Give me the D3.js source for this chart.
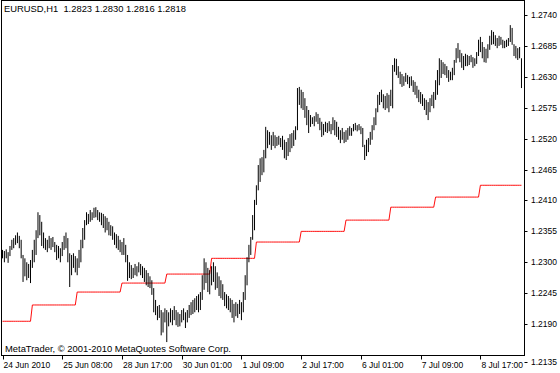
<!DOCTYPE html>
<html>
<head>
<meta charset="utf-8">
<script src="https://cdn.jsdelivr.net/npm/d3@7"></script>
<style>
  body { margin: 0; background: #fff; }
  svg { display: block; }
  text { font-family: "Liberation Sans", Arial, sans-serif; fill: #000; }
</style>
</head>
<body>
<svg id="chart"></svg>
<script>
const symbol = 'EURUSD,H1';
const lastQuote = ['1.2823', '1.2830', '1.2816', '1.2818'];
const copyright = 'MetaTrader, \u00a9 2001-2010 MetaQuotes Software Corp.';

// hourly bars from 24 Jun 2010 00:00
const highs = [
  1.2322,1.2320,1.2323,1.2318,1.2329,1.2340,1.2343,1.2348,1.2353,1.2347,
  1.2340,1.2313,1.2307,1.2300,1.2297,1.2304,1.2322,1.2340,1.2357,1.2389,
  1.2384,1.2372,1.2353,1.2343,1.2340,1.2347,1.2343,1.2345,1.2336,1.2331,
  1.2329,1.2325,1.2336,1.2347,1.2353,1.2343,1.2316,1.2313,1.2316,1.2311,
  1.2307,1.2322,1.2340,1.2361,1.2375,1.2389,1.2386,1.2393,1.2389,1.2397,
  1.2398,1.2393,1.2389,1.2388,1.2386,1.2382,1.2379,1.2372,1.2366,1.2364,
  1.2353,1.2350,1.2347,1.2340,1.2336,1.2343,1.2331,1.2313,1.2300,1.2295,
  1.2290,1.2297,1.2293,1.2300,1.2297,1.2293,1.2290,1.2286,1.2281,1.2275,
  1.2268,1.2254,1.2233,1.2222,1.2224,1.2215,1.2211,1.2218,1.2215,1.2211,
  1.2218,1.2215,1.2222,1.2215,1.2211,1.2208,1.2215,1.2218,1.2211,1.2215,
  1.2224,1.2229,1.2233,1.2236,1.2240,1.2243,1.2247,1.2277,1.2307,1.2300,
  1.2290,1.2286,1.2293,1.2300,1.2293,1.2282,1.2275,1.2268,1.2261,1.2247,
  1.2243,1.2240,1.2236,1.2233,1.2226,1.2229,1.2226,1.2233,1.2229,1.2247,
  1.2277,1.2309,1.2331,1.2345,1.2384,1.2411,1.2437,1.2473,1.2485,1.2487,
  1.2500,1.2541,1.2535,1.2532,1.2526,1.2532,1.2526,1.2523,1.2525,1.2521,
  1.2525,1.2518,1.2514,1.2521,1.2528,1.2530,1.2535,1.2542,1.2610,1.2612,
  1.2607,1.2603,1.2592,1.2578,1.2571,1.2562,1.2558,1.2560,1.2567,1.2564,
  1.2557,1.2550,1.2546,1.2550,1.2548,1.2551,1.2546,1.2558,1.2553,1.2550,
  1.2541,1.2535,1.2539,1.2532,1.2535,1.2539,1.2542,1.2539,1.2546,1.2548,
  1.2544,1.2546,1.2542,1.2539,1.2509,1.2518,1.2521,1.2532,1.2544,1.2558,
  1.2574,1.2598,1.2603,1.2607,1.2599,1.2596,1.2601,1.2598,1.2607,1.2651,
  1.2663,1.2662,1.2649,1.2639,1.2635,1.2631,1.2637,1.2633,1.2630,1.2631,
  1.2624,1.2621,1.2614,1.2607,1.2603,1.2599,1.2592,1.2589,1.2585,1.2592,
  1.2598,1.2603,1.2624,1.2642,1.2663,1.2660,1.2656,1.2653,1.2649,1.2642,
  1.2639,1.2646,1.2660,1.2681,1.2690,1.2678,1.2672,1.2667,1.2671,1.2669,
  1.2667,1.2669,1.2665,1.2663,1.2674,1.2696,1.2701,1.2692,1.2683,1.2680,
  1.2688,1.2703,1.2713,1.2710,1.2704,1.2699,1.2703,1.2701,1.2696,1.2694,
  1.2696,1.2699,1.2722,1.2717,1.2688,1.2685,1.2681,1.2683,1.2663
];
const lows = [
  1.2307,1.2300,1.2307,1.2299,1.2311,1.2322,1.2325,1.2331,1.2334,1.2325,
  1.2307,1.2265,1.2275,1.2268,1.2272,1.2263,1.2290,1.2300,1.2313,1.2343,
  1.2348,1.2329,1.2325,1.2322,1.2318,1.2325,1.2322,1.2327,1.2318,1.2304,
  1.2307,1.2300,1.2311,1.2322,1.2325,1.2300,1.2256,1.2277,1.2290,1.2282,
  1.2277,1.2290,1.2300,1.2325,1.2340,1.2366,1.2368,1.2372,1.2375,1.2379,
  1.2380,1.2375,1.2372,1.2366,1.2361,1.2353,1.2357,1.2348,1.2347,1.2340,
  1.2331,1.2325,1.2322,1.2318,1.2313,1.2313,1.2300,1.2267,1.2272,1.2270,
  1.2272,1.2277,1.2275,1.2282,1.2277,1.2272,1.2265,1.2259,1.2256,1.2254,
  1.2242,1.2211,1.2206,1.2197,1.2201,1.2170,1.2175,1.2193,1.2158,1.2186,
  1.2193,1.2188,1.2197,1.2188,1.2185,1.2186,1.2193,1.2197,1.2183,1.2193,
  1.2201,1.2206,1.2208,1.2211,1.2215,1.2211,1.2215,1.2233,1.2251,1.2263,
  1.2247,1.2243,1.2259,1.2265,1.2251,1.2254,1.2240,1.2236,1.2233,1.2222,
  1.2218,1.2215,1.2211,1.2201,1.2193,1.2204,1.2201,1.2208,1.2197,1.2211,
  1.2233,1.2259,1.2300,1.2313,1.2340,1.2357,1.2402,1.2428,1.2443,1.2455,
  1.2460,1.2485,1.2503,1.2509,1.2500,1.2507,1.2503,1.2507,1.2509,1.2505,
  1.2500,1.2485,1.2482,1.2489,1.2496,1.2503,1.2507,1.2518,1.2535,1.2580,
  1.2574,1.2571,1.2557,1.2544,1.2530,1.2541,1.2546,1.2542,1.2550,1.2546,
  1.2535,1.2523,1.2526,1.2532,1.2530,1.2533,1.2528,1.2535,1.2526,1.2523,
  1.2518,1.2512,1.2518,1.2512,1.2514,1.2518,1.2525,1.2525,1.2533,1.2535,
  1.2533,1.2535,1.2528,1.2505,1.2482,1.2489,1.2496,1.2509,1.2518,1.2535,
  1.2544,1.2567,1.2580,1.2585,1.2574,1.2571,1.2574,1.2567,1.2578,1.2574,
  1.2639,1.2633,1.2628,1.2617,1.2612,1.2614,1.2621,1.2617,1.2610,1.2614,
  1.2603,1.2598,1.2592,1.2585,1.2582,1.2578,1.2571,1.2562,1.2553,1.2567,
  1.2578,1.2574,1.2589,1.2598,1.2615,1.2628,1.2635,1.2633,1.2628,1.2621,
  1.2624,1.2624,1.2633,1.2655,1.2663,1.2656,1.2646,1.2642,1.2649,1.2649,
  1.2651,1.2656,1.2646,1.2649,1.2653,1.2667,1.2674,1.2663,1.2656,1.2655,
  1.2663,1.2678,1.2687,1.2688,1.2685,1.2681,1.2685,1.2687,1.2681,1.2681,
  1.2683,1.2685,1.2692,1.2687,1.2667,1.2663,1.2660,1.2663,1.2610
];

// red indicator: daily level, changes at the listed bar
const stepBars = [0, 16, 40, 64, 88, 112, 136, 160, 184, 208, 232, 256];
const stepLevels = [1.2195, 1.2224, 1.2247, 1.2263, 1.2279, 1.2307, 1.2336, 1.2355, 1.2375, 1.2398, 1.2416, 1.2437];

const timeLabelBars = [0, 32, 64, 96, 128, 160, 192, 224, 256];
const timeLabels = ['24 Jun 2010', '25 Jun 08:00', '28 Jun 17:00', '30 Jun 01:00', '1 Jul 09:00',
  '2 Jul 17:00', '6 Jul 01:00', '7 Jul 09:00', '8 Jul 17:00'];
const priceTicks = [1.2740, 1.2685, 1.2630, 1.2575, 1.2520, 1.2465, 1.2410, 1.2355, 1.2300, 1.2245, 1.2190, 1.2135];

const width = 560, height = 373;
const plotRight = 524.5, plotBottom = 355.5;

const svg = d3.select('#chart')
  .attr('width', width)
  .attr('height', height);

const x = d3.scaleLinear()
  .domain([0, 256])
  .range([2.5, 480.4]);

const y = d3.scaleLinear()
  .domain([1.2135, 1.2740])
  .range([355, 15]);

// frame
svg.append('rect')
  .attr('x', 1.5).attr('y', 0.5)
  .attr('width', plotRight - 1.5).attr('height', plotBottom - 0.5)
  .attr('fill', 'none').attr('stroke', '#000').attr('stroke-width', 1)
  .attr('shape-rendering', 'crispEdges');

const plot = svg.append('g');

// red daily line, one point per bar
const levelAt = i => stepLevels[d3.bisectRight(stepBars, i) - 1];
const lineGenerator = d3.line()
  .x(i => x(i))
  .y(i => y(levelAt(i)));
plot.append('path')
  .attr('d', lineGenerator(d3.range(highs.length)))
  .attr('fill', 'none')
  .attr('stroke', '#ff0000')
  .attr('stroke-width', 0.95);

// bars
plot.selectAll('line.bar')
  .data(highs)
  .join('line')
  .attr('class', 'bar')
  .attr('x1', (d, i) => x(i)).attr('x2', (d, i) => x(i))
  .attr('y1', d => y(d)).attr('y2', (d, i) => y(lows[i]))
  .attr('stroke', '#000')
  .attr('stroke-width', 1);

// header
svg.append('text')
  .attr('x', 4).attr('y', 12)
  .attr('font-size', 9.4)
  .attr('xml:space', 'preserve')
  .text(symbol + '  ' + lastQuote.join(' '));

svg.append('text')
  .attr('x', 5).attr('y', 352)
  .attr('font-size', 9.4)
  .text(copyright);

// price axis
const lowest = priceTicks[priceTicks.length - 1];
const priceY = v => v === lowest ? y(v) + 7 : y(v);
const pAxis = svg.append('g');
pAxis.selectAll('line')
  .data(priceTicks)
  .join('line')
  .attr('x1', plotRight).attr('x2', plotRight + 3)
  .attr('y1', d => Math.round(priceY(d)) + 0.5).attr('y2', d => Math.round(priceY(d)) + 0.5)
  .attr('stroke', '#000');
pAxis.selectAll('text')
  .data(priceTicks)
  .join('text')
  .attr('x', 531).attr('y', d => priceY(d) + 3)
  .attr('font-size', 8.5)
  .text(d => d.toFixed(4));

// time axis
const tAxis = svg.append('g');
tAxis.selectAll('line')
  .data(timeLabelBars)
  .join('line')
  .attr('x1', d => Math.round(x(d)) + 0.5).attr('x2', d => Math.round(x(d)) + 0.5)
  .attr('y1', plotBottom).attr('y2', plotBottom + 4)
  .attr('stroke', '#000');
tAxis.selectAll('text')
  .data(timeLabelBars)
  .join('text')
  .attr('x', d => x(d) + 1).attr('y', 368)
  .attr('font-size', 8.5)
  .text((d, i) => timeLabels[i]);
</script>
</body>
</html>
